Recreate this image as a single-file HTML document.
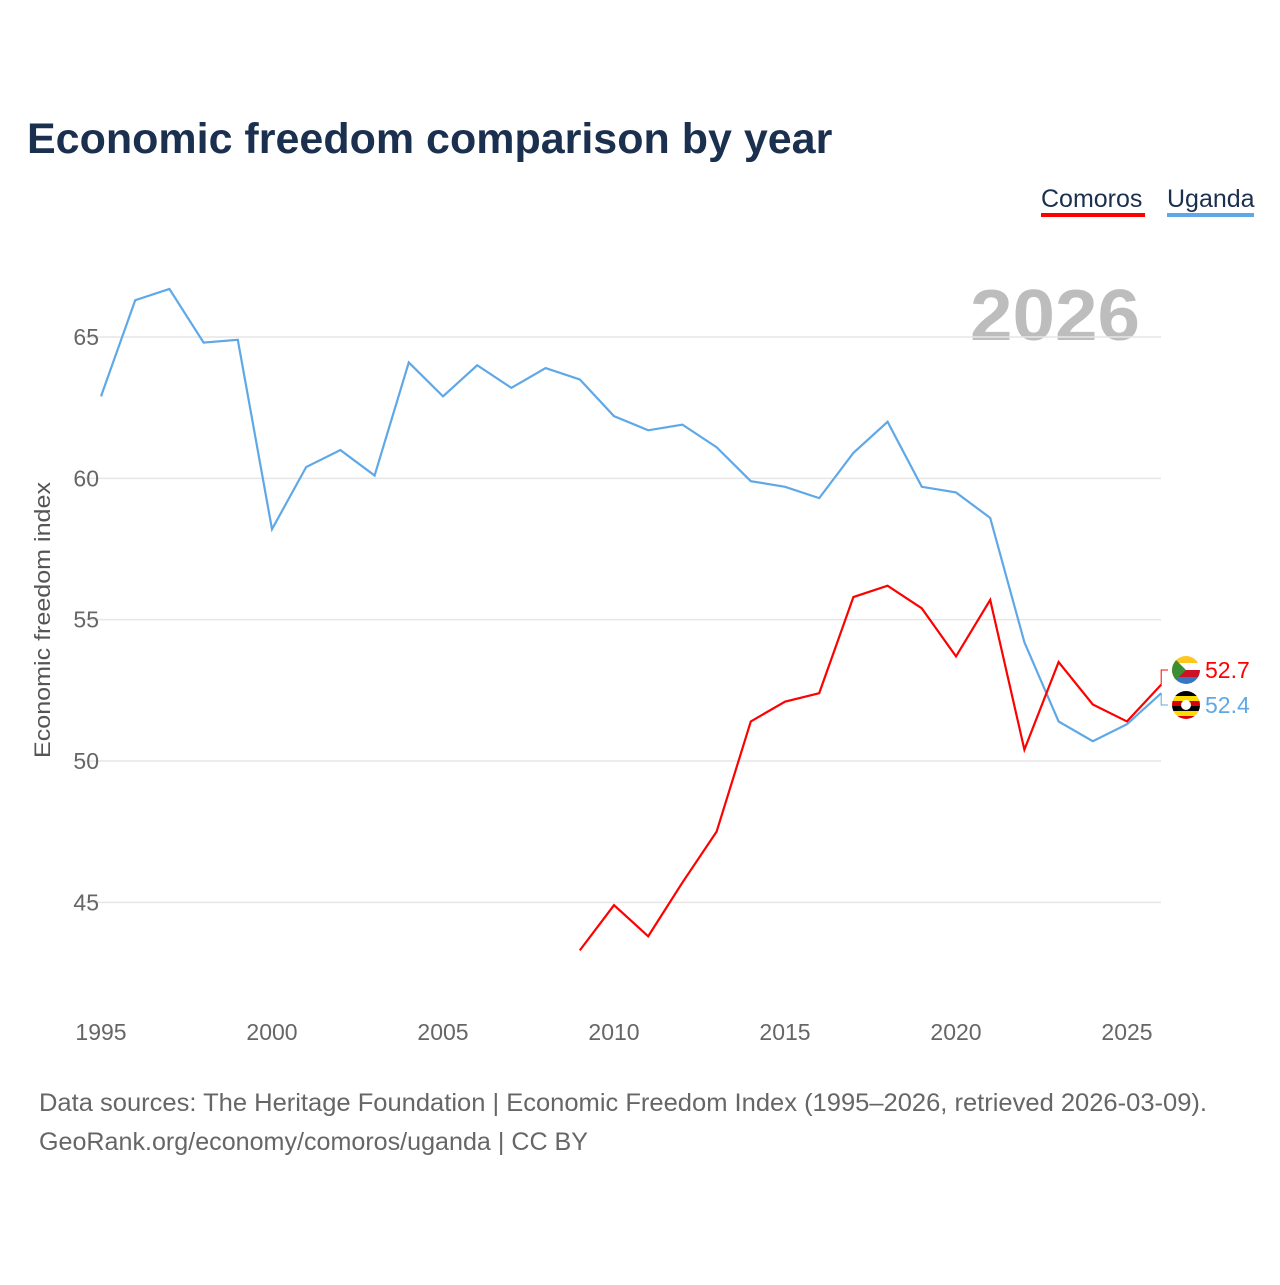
<!DOCTYPE html>
<html><head><meta charset="utf-8"><style>
body{margin:0;background:#fff;width:1280px;height:1280px;overflow:hidden;font-family:"Liberation Sans",sans-serif}
</style></head><body>
<svg width="1280" height="1280" xmlns="http://www.w3.org/2000/svg">
<text x="27" y="153" font-size="43" font-weight="bold" fill="#1b2f4f">Economic freedom comparison by year</text>
<g>
<text x="1041" y="207" font-size="25" fill="#1b2f4f">Comoros</text>
<rect x="1041" y="213" width="104" height="4" fill="#ff0000"/>
<text x="1167" y="207" font-size="25" fill="#1b2f4f">Uganda</text>
<rect x="1167" y="213" width="87" height="4" fill="#5fa8e8"/>
</g>
<text x="970" y="340" font-size="72" font-weight="bold" fill="#bdbdbd" textLength="170" lengthAdjust="spacingAndGlyphs">2026</text>
<g id="grid"></g><g id="axes"></g><g id="lines"></g>
<text transform="translate(50,620) rotate(-90)" font-size="22" fill="#555" text-anchor="middle" textLength="276" lengthAdjust="spacingAndGlyphs">Economic freedom index</text>
<text x="39" y="1111" font-size="25" fill="#666" textLength="1168" lengthAdjust="spacingAndGlyphs">Data sources: The Heritage Foundation | Economic Freedom Index (1995–2026, retrieved 2026-03-09).</text>
<text x="39" y="1150" font-size="25" fill="#666" textLength="549" lengthAdjust="spacingAndGlyphs">GeoRank.org/economy/comoros/uganda | CC BY</text>
</svg>
<script>
const ugandaYears=[1995,1996,1997,1998,1999,2000,2001,2002,2003,2004,2005,2006,2007,2008,2009,2010,2011,2012,2013,2014,2015,2016,2017,2018,2019,2020,2021,2022,2023,2024,2025,2026];
const ugandaValues=[62.9,66.3,66.7,64.8,64.9,58.2,60.4,61.0,60.1,64.1,62.9,64.0,63.2,63.9,63.5,62.2,61.7,61.9,61.1,59.9,59.7,59.3,60.9,62.0,59.7,59.5,58.6,54.2,51.4,50.7,51.3,52.4];
const comorosYears=[2009,2010,2011,2012,2013,2014,2015,2016,2017,2018,2019,2020,2021,2022,2023,2024,2025,2026];
const comorosValues=[43.3,44.9,43.8,45.7,47.5,51.4,52.1,52.4,55.8,56.2,55.4,53.7,55.7,50.4,53.5,52.0,51.4,52.7];
const yTicks=[45,50,55,60,65];
const xTicks=[1995,2000,2005,2010,2015,2020,2025];
const NS="http://www.w3.org/2000/svg";
const X=y=>101+(y-1995)*(1127-101)/30;
const Y=v=>761-(v-50)*(761-337)/15;
function mk(t,a,p){const e=document.createElementNS(NS,t);for(const k in a)e.setAttribute(k,a[k]);document.getElementById(p).appendChild(e);return e;}
yTicks.forEach(v=>{
 const l=mk('line',{x1:85,x2:1161,y1:Y(v),y2:Y(v),stroke:'#e6e6e6','stroke-width':1.5},'grid');
 
 
 const t=mk('text',{x:99,y:Y(v)+8,'font-size':23,fill:'#666','text-anchor':'end'},'axes');t.textContent=v;
 
 
});
xTicks.forEach(v=>{
 const t=mk('text',{x:X(v),y:1040,'font-size':23,fill:'#666','text-anchor':'middle'},'axes');t.textContent=v;
 
 
});
function series(ys,vs,c,name){
 const p=mk('polyline',{points:ys.map((y,i)=>X(y)+','+Y(vs[i])).join(' '),fill:'none',stroke:c,'stroke-width':2.2},'lines');
 
 
}
series(ugandaYears,ugandaValues,'#5fa8e8','uganda');
series(comorosYears,comorosValues,'#ff0000','comoros');
const cy=Y(comorosValues[comorosValues.length-1]),uy=Y(ugandaValues[ugandaValues.length-1]);
const cl=670,ul=705;
mk('polyline',{points:`${X(2026)},${cy} ${X(2026)},${cl} 1168,${cl}`,fill:'none',stroke:'#ff0000','stroke-width':1},'lines');
mk('polyline',{points:`${X(2026)},${uy} ${X(2026)},${ul} 1168,${ul}`,fill:'none',stroke:'#5fa8e8','stroke-width':1},'lines');
const f1=mk('g',{},'lines');


f1.innerHTML='<clipPath id="c1"><circle cx="1186" cy="670" r="14"/></clipPath><g clip-path="url(#c1)"><rect x="1172" y="656" width="28" height="7" fill="#ffc61e"/><rect x="1172" y="663" width="28" height="7" fill="#fff"/><rect x="1172" y="670" width="28" height="7" fill="#ce1126"/><rect x="1172" y="677" width="28" height="7" fill="#3a75c4"/><polygon points="1172,656 1186,670 1172,684" fill="#3d8e33"/></g>';
const f2=mk('g',{},'lines');


f2.innerHTML='<clipPath id="c2"><circle cx="1186" cy="705" r="14"/></clipPath><g clip-path="url(#c2)"><rect x="1172" y="691" width="28" height="5" fill="#000"/><rect x="1172" y="696" width="28" height="5" fill="#fcdc04"/><rect x="1172" y="701" width="28" height="5" fill="#d90000"/><rect x="1172" y="706" width="28" height="5" fill="#000"/><rect x="1172" y="711" width="28" height="5" fill="#fcdc04"/><rect x="1172" y="716" width="28" height="5" fill="#d90000"/><circle cx="1186" cy="705" r="5" fill="#fff"/></g>';
const t1=mk('text',{x:1205,y:678,'font-size':23,fill:'#ff0000'},'lines');t1.textContent=comorosValues[comorosValues.length-1];


const t2=mk('text',{x:1205,y:713,'font-size':23,fill:'#5fa8e8'},'lines');t2.textContent=ugandaValues[ugandaValues.length-1];


</script>
</body></html>
